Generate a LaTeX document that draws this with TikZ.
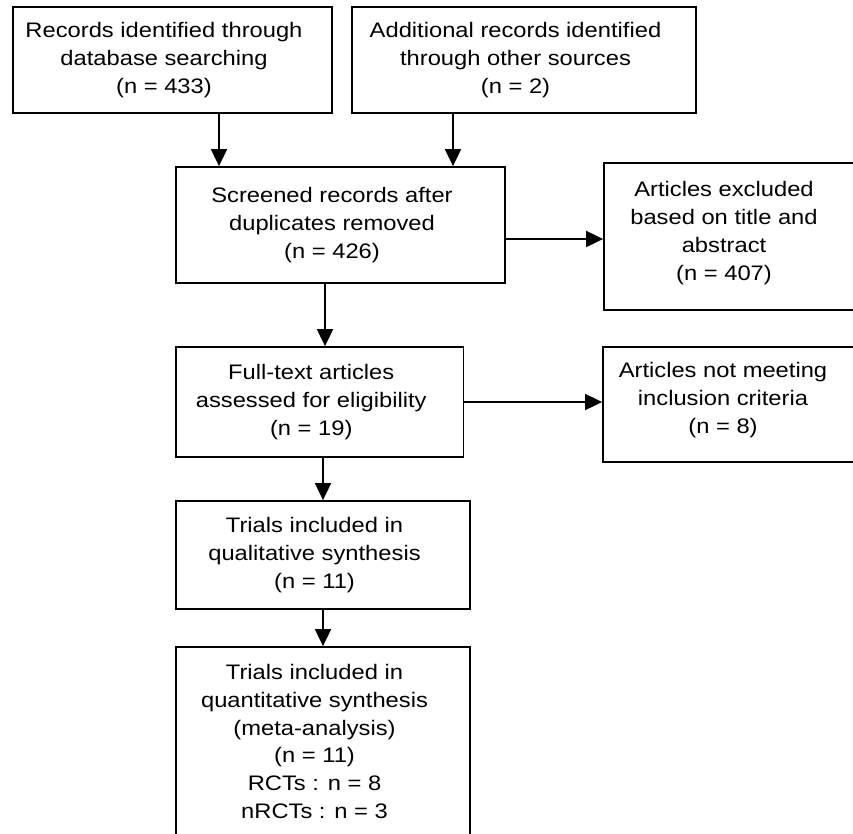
\documentclass[tikz,border=0pt]{standalone}
\usepackage{fontspec}
\setmainfont[FakeStretch=1.13]{Liberation Sans}
\usetikzlibrary{arrows.meta}
\newcommand{\bxlines}[1]{\begin{tabular}{@{}c@{}}#1\end{tabular}\kern17pt}
\begin{document}
\begin{tikzpicture}[x=1pt,y=-1pt,
  box/.style={draw=black, line width=1.8pt, rectangle, inner sep=0pt,
    font=\fontsize{21}{27.8}\selectfont},
  txt/.style={inner sep=0pt, align=center, font=\fontsize{21}{27.8}\selectfont},
  arr/.style={line width=1.8pt, -{Triangle[width=16pt,length=17pt]}}]
\useasboundingbox (0,0) rectangle (853,833);
\clip (0,0) rectangle (853,833);
\fill[white] (0,0) rectangle (853,833);
\node[box, minimum width=319pt, minimum height=106pt] (b1) at (172.5,60)
  {\bxlines{Records identified through\\database searching\\(n = 433)}};
\node[box, minimum width=344pt, minimum height=106pt] (b2) at (524,60)
  {\bxlines{Additional records identified\\through other sources\\(n = 2)}};
\node[box, minimum width=329pt, minimum height=116pt] (b3) at (340.5,225)
  {\bxlines{Screened records after\\duplicates removed\\(n = 426)}};
\node[box, minimum width=266pt, minimum height=147pt] (b4) at (737,236.5) {};
\node[txt] (t4) at (724,233)
  {Articles excluded\\based on title and\\abstract\\(n = 407)};
\node[box, minimum width=287.5pt, minimum height=110pt] (b5) at (319.75,402)
  {\bxlines{Full-text articles\\assessed for eligibility\\(n = 19)}};
\node[box, minimum width=267pt, minimum height=115pt] (b6) at (736.5,404.5) {};
\node[txt] (t6) at (723,400)
  {Articles not meeting\\inclusion criteria\\(n = 8)};
\node[box, minimum width=294pt, minimum height=108pt] (b7) at (323,555)
  {\bxlines{Trials included in\\qualitative synthesis\\(n = 11)}};
\node[box, minimum width=294pt, minimum height=193pt] (b8) at (323,743.5)
  {\bxlines{Trials included in\\quantitative synthesis\\(meta-analysis)\\(n = 11)\\RCTs : n = 8\\nRCTs : n = 3}};
\coordinate (xa) at (219,0);
\coordinate (xb) at (453,0);
\coordinate (xc) at (325,0);
\coordinate (xd) at (323,0);
\coordinate (ya) at (0,239);
\coordinate (yb) at (0,402);
\draw[arr] (b1.south -| xa) -- (b3.north -| xa);
\draw[arr] (b2.south -| xb) -- (b3.north -| xb);
\draw[arr] (b3.east |- ya) -- (b4.west |- ya);
\draw[arr] (b3.south -| xc) -- (b5.north -| xc);
\draw[arr] (b5.east |- yb) -- (b6.west |- yb);
\draw[arr] (b5.south -| xd) -- (b7.north -| xd);
\draw[arr] (b7.south -| xd) -- (b8.north -| xd);
\end{tikzpicture}
\end{document}
